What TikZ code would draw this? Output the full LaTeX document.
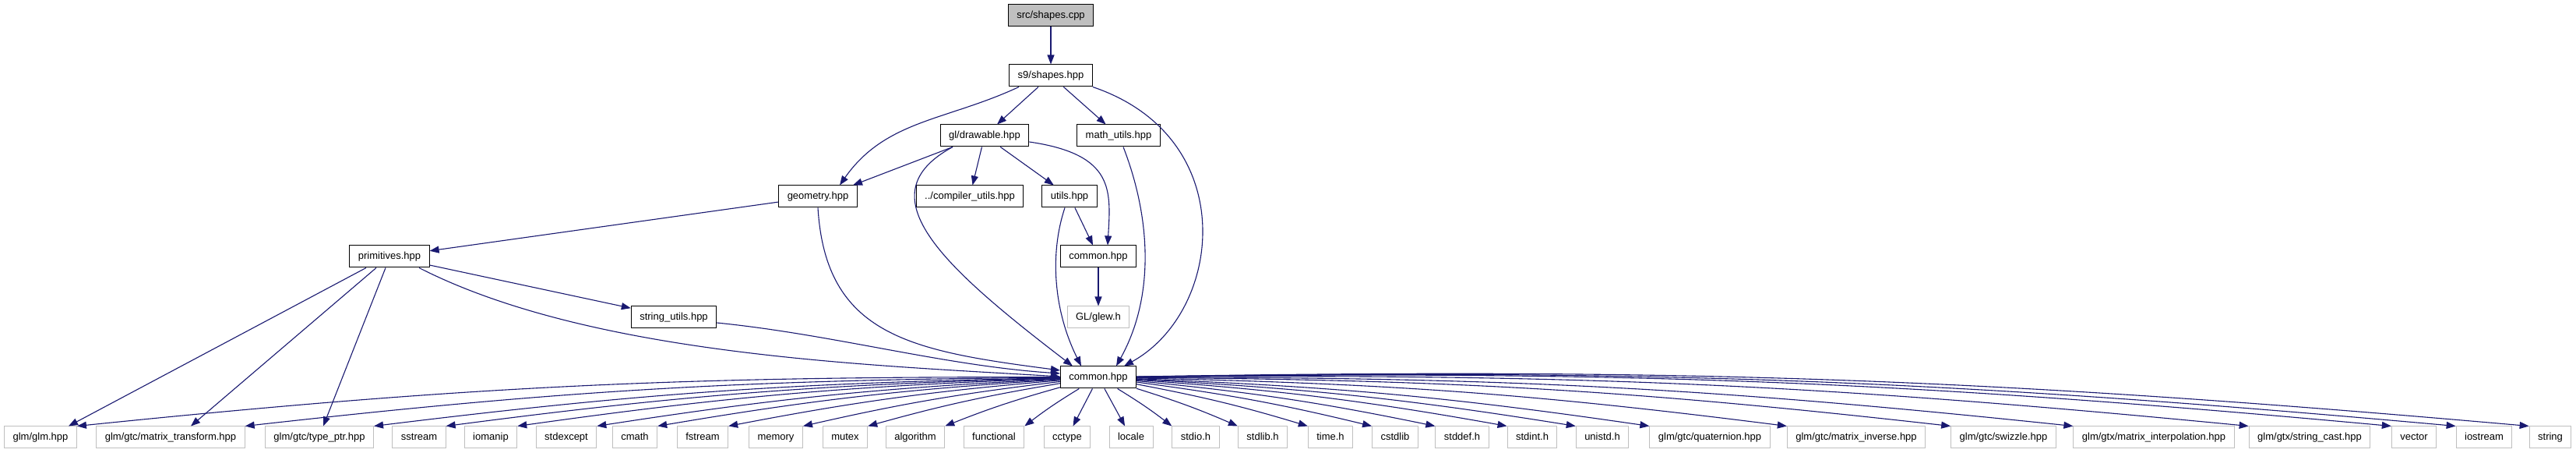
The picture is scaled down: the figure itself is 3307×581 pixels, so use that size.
\documentclass[tikz,border=0pt]{standalone}
\usepackage{fontspec}
\setmainfont{Liberation Sans}
\usetikzlibrary{arrows.meta,calc}
\definecolor{edgeblue}{HTML}{191970}
\definecolor{grey75}{HTML}{BFBFBF}

\tikzset{
  file/.style={draw=black, fill=white, line width=0.5pt, inner xsep=5.5pt, inner ysep=0pt,
    minimum height=14pt, text height=5pt, text depth=1.4pt, font=\fontsize{6.5}{7.8}\selectfont},
  sysfile/.style={file, draw=grey75},
  topfile/.style={file, fill=grey75},
  inc/.style={edgeblue, line width=0.55pt, -{Triangle[length=6pt,width=4.5pt]}},
}

\begin{document}
\begin{tikzpicture}[x=0.5pt, y=0.5pt]
    \useasboundingbox (0,0) rectangle (3307,-581);
    % project files
    \node[topfile] (src) at (1349,-20) {src/shapes.cpp};
    \node[file] (shapes) at (1349,-97) {s9/shapes.hpp};
    \node[file] (drawable) at (1264,-174) {gl/drawable.hpp};
    \node[file] (mathu) at (1436,-174) {math\_utils.hpp};
    \node[file] (geometry) at (1050,-252) {geometry.hpp};
    \node[file] (compiler) at (1245,-252) {../compiler\_utils.hpp};
    \node[file] (utils) at (1373,-252) {utils.hpp};
    \node[file] (commonup) at (1410,-329) {common.hpp};
    \node[sysfile] (glew) at (1410,-407) {GL/glew.h};
    \node[file] (primitives) at (500,-329) {primitives.hpp};
    \node[file] (strutils) at (865,-407) {string\_utils.hpp};
    \node[file] (common) at (1410,-484) {common.hpp};
    % system headers
    \foreach \n/\x/\lab in {glmglm/52/{glm/glm.hpp}, mtransform/219/{glm/gtc/matrix\_transform.hpp},
      typeptr/410/{glm/gtc/type\_ptr.hpp}, sstream/538/sstream, iomanip/630/iomanip,
      stdexcept/727/stdexcept, cmath/815/cmath, fstream/902/fstream, memory/996/memory,
      mutex/1085/mutex, algorithm/1175/algorithm, functional/1276/functional,
      cctype/1370/cctype, locale/1452/locale, stdioh/1535/stdio.h, stdlibh/1621/stdlib.h,
      timeh/1708/time.h, cstdlib/1791/cstdlib, stddefh/1877/stddef.h, stdinth/1967/stdint.h,
      unistdh/2057/unistd.h, quaternion/2195/{glm/gtc/quaternion.hpp},
      minverse/2383/{glm/gtc/matrix\_inverse.hpp}, swizzle/2572/{glm/gtc/swizzle.hpp},
      minterp/2765/{glm/gtx/matrix\_interpolation.hpp}, stringcast/2965/{glm/gtx/string\_cast.hpp},
      vector/3099/vector, iostream/3189/iostream, string/3274/string}{
      \node[sysfile] (\n) at (\x,-561) {\lab};
    }
    % includes, upper part
    \draw[inc] (src) -- (shapes);
    \draw[inc] (shapes) -- (drawable);
    \draw[inc] (shapes) -- (mathu);
    \draw[inc] ($(shapes.south)+(-41,0)$) to[out=205, in=55] ($(geometry.north)+(28,0)$);
    \draw[inc] (shapes.south east) .. controls +(192,-65) and +(127,70) .. ($(common.north)+(33,0)$);
    \draw[inc] ($(drawable.south)+(-41,0)$) -- ($(geometry.north)+(45,0)$);
    \draw[inc] (drawable) -- (compiler);
    \draw[inc] (drawable) -- (utils);
    \draw[inc] ($(drawable.east)+(0,-8)$) .. controls +(110,-16) and +(4,70) .. ($(commonup.north)+(12,0)$);
    \draw[inc] ($(drawable.south)+(-41,0)$) .. controls +(-113,-61) and +(-170,130) .. ($(common.north)+(-33,0)$);
    \draw[inc] ($(mathu.south)+(6,0)$) .. controls +(35,-90) and +(50,90) .. ($(common.north)+(23,0)$);
    \draw[inc] (utils) -- (commonup);
    \draw[inc] ($(utils.south)+(-6,0)$) .. controls +(-20,-60) and +(-35,70) .. ($(common.north)+(-22,0)$);
    \draw[inc] (commonup) -- (glew);
    \draw[inc] (geometry) -- (primitives);
    \draw[inc] (geometry.south) .. controls +(10,-164) and +(-192,25) .. ($(common.west)+(0,9)$);
    \draw[inc] (primitives) -- (strutils);
    \draw[inc] ($(primitives.south)+(38,0)$) .. controls +(220,-112) and +(-250,15) .. ($(common.west)+(0,1)$);
    \draw[inc] ($(strutils.east)+(0,-7)$) .. controls +(150,-15) and +(-150,10) .. ($(common.west)+(0,5)$);
    \draw[inc] ($(primitives.south)+(-30,0)$) -- ($(glmglm.north)+(36,0)$);
    \draw[inc] ($(primitives.south)+(-17,0)$) -- ($(mtransform.north)+(26,0)$);
    \draw[inc] ($(primitives.south)+(-5,0)$) -- ($(typeptr.north)+(5,0)$);
    % includes of common.hpp
    \foreach \t in {glmglm,mtransform,typeptr,sstream,iomanip,stdexcept,cmath,fstream,memory,mutex,algorithm,functional}
      \draw[inc] (common) to[bend right=3] (\t.north east);
    \foreach \t in {cctype,locale}
      \draw[inc] (common) -- (\t);
    \foreach \t in {stdioh,stdlibh,timeh,cstdlib,stddefh,stdinth,unistdh,quaternion,minverse,swizzle,minterp,stringcast,vector,iostream,string}
      \draw[inc] (common) to[bend left=3] (\t.north west);
\end{tikzpicture}
\end{document}
